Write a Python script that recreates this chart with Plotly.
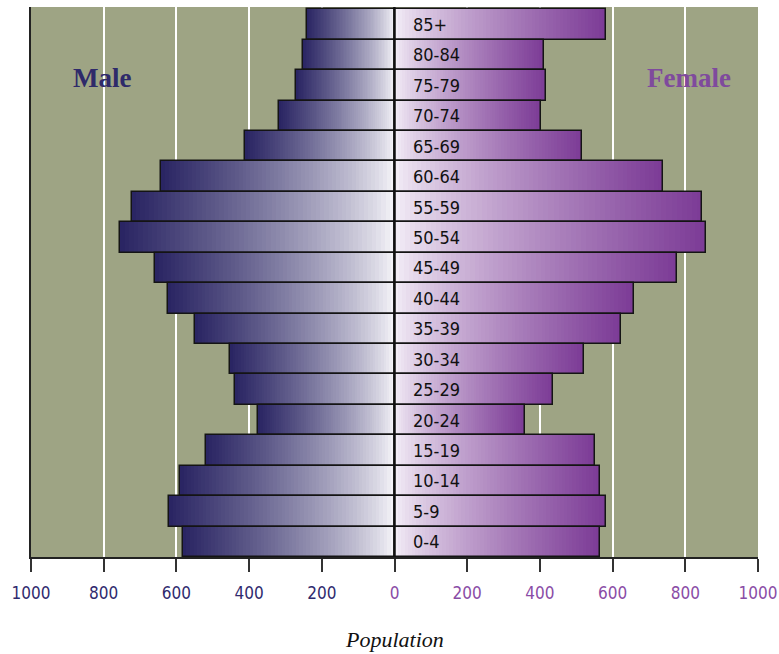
import plotly.graph_objects as go

# Age groups, bottom to top
age_groups = ["0-4", "5-9", "10-14", "15-19", "20-24", "25-29", "30-34", "35-39",
              "40-44", "45-49", "50-54", "55-59", "60-64", "65-69", "70-74",
              "75-79", "80-84", "85+"]
male = [582, 621, 590, 518, 375, 439, 453, 549, 624, 658, 755, 723, 643, 410,
        318, 271, 252, 242]
female = [565, 582, 564, 552, 359, 436, 520, 623, 658, 778, 856, 847, 738, 517,
          403, 417, 412, 581]

tick_values = [-1000, -800, -600, -400, -200, 0, 200, 400, 600, 800, 1000]
tick_labels = ["1000", "800", "600", "400", "200", "0", "200", "400", "600", "800", "1000"]

MALE_DARK = (41, 36, 98)
FEMALE_DARK = (124, 59, 150)
MALE_LIGHT = (250, 249, 252)
FEMALE_LIGHT = (246, 242, 249)
BG = "#9ea484"
NARROW = "Liberation Sans Narrow, DejaVu Sans Condensed, Arial Narrow, sans-serif"
SERIF = "Liberation Serif, Times New Roman, serif"

N_STEPS = 60


def blend(light, dark, t):
    f = t ** 0.75
    r, g, b = (round(l + (d - l) * f) for l, d in zip(light, dark))
    return f"rgb({r},{g},{b})"


fig = go.Figure()

# Gradient fill: overlapping bars, longest (darkest) first, each shorter one lighter on top
for j in range(N_STEPS, 0, -1):
    frac = j / N_STEPS
    t = (j - 0.5) / N_STEPS
    fig.add_trace(go.Bar(
        y=age_groups, x=[-v * frac for v in male], orientation="h",
        marker=dict(color=blend(MALE_LIGHT, MALE_DARK, t), line=dict(width=0)),
        showlegend=False, hoverinfo="skip"))
    fig.add_trace(go.Bar(
        y=age_groups, x=[v * frac for v in female], orientation="h",
        marker=dict(color=blend(FEMALE_LIGHT, FEMALE_DARK, t), line=dict(width=0)),
        showlegend=False, hoverinfo="skip"))

# Bar outlines
fig.add_trace(go.Bar(
    y=age_groups, x=[-v for v in male], orientation="h", name="Male",
    marker=dict(color="rgba(0,0,0,0)", line=dict(color="#141414", width=1.5)),
    showlegend=False))
fig.add_trace(go.Bar(
    y=age_groups, x=female, orientation="h", name="Female",
    marker=dict(color="rgba(0,0,0,0)", line=dict(color="#141414", width=1.5)),
    showlegend=False))

tick_text = []
for v, lab in zip(tick_values, tick_labels):
    col = "#2f2a6e" if v < 0 else "#8a4ca6"
    tick_text.append(f'<span style="color:{col}">{lab}</span>')

annotations = []
for age in age_groups:
    annotations.append(dict(
        x=0, y=age, xref="x", yref="y", text=age, showarrow=False,
        xanchor="left", yanchor="middle", xshift=16,
        font=dict(family=NARROW, size=18, color="#111111")))

annotations += [
    dict(x=-805, y=0.871, xref="x", yref="paper", text="<b>Male</b>", showarrow=False,
         xanchor="center", yanchor="middle",
         font=dict(family=SERIF, size=27, color="#2e2a6a")),
    dict(x=810, y=0.871, xref="x", yref="paper", text="<b>Female</b>", showarrow=False,
         xanchor="center", yanchor="middle",
         font=dict(family=SERIF, size=27, color="#7f4a9d")),
    dict(x=0.5, y=0, xref="paper", yref="paper", text="<i>Population</i>",
         showarrow=False, xanchor="center", yanchor="middle", yshift=-82,
         font=dict(family=SERIF, size=22, color="#111111")),
]

fig.update_layout(
    width=779, height=654,
    margin=dict(l=31, r=21, t=7, b=97, autoexpand=False),
    paper_bgcolor="white", plot_bgcolor=BG,
    barmode="overlay", bargap=0,
    annotations=annotations,
    shapes=[dict(type="line", xref="x", yref="paper", x0=0, x1=0, y0=0, y1=1,
                 line=dict(color="#111111", width=2.5), layer="above")],
    xaxis=dict(
        range=[-1000, 1000], tickvals=tick_values, ticktext=tick_text,
        showgrid=True, gridcolor="white", gridwidth=1.5, zeroline=False,
        showline=True, linecolor="#222222", linewidth=1.5,
        ticks="outside", ticklen=13, tickwidth=1.5, tickcolor="#333333",
        tickfont=dict(family=NARROW, size=17), ticklabelstandoff=7,
        automargin=False, fixedrange=True),
    yaxis=dict(
        type="category", categoryorder="array", categoryarray=age_groups,
        range=[-0.5, 17.576], showticklabels=False, showgrid=False, zeroline=False,
        showline=True, linecolor="#222222", linewidth=2, ticks="",
        automargin=False, fixedrange=True),
)

fig.write_html("out.html")
